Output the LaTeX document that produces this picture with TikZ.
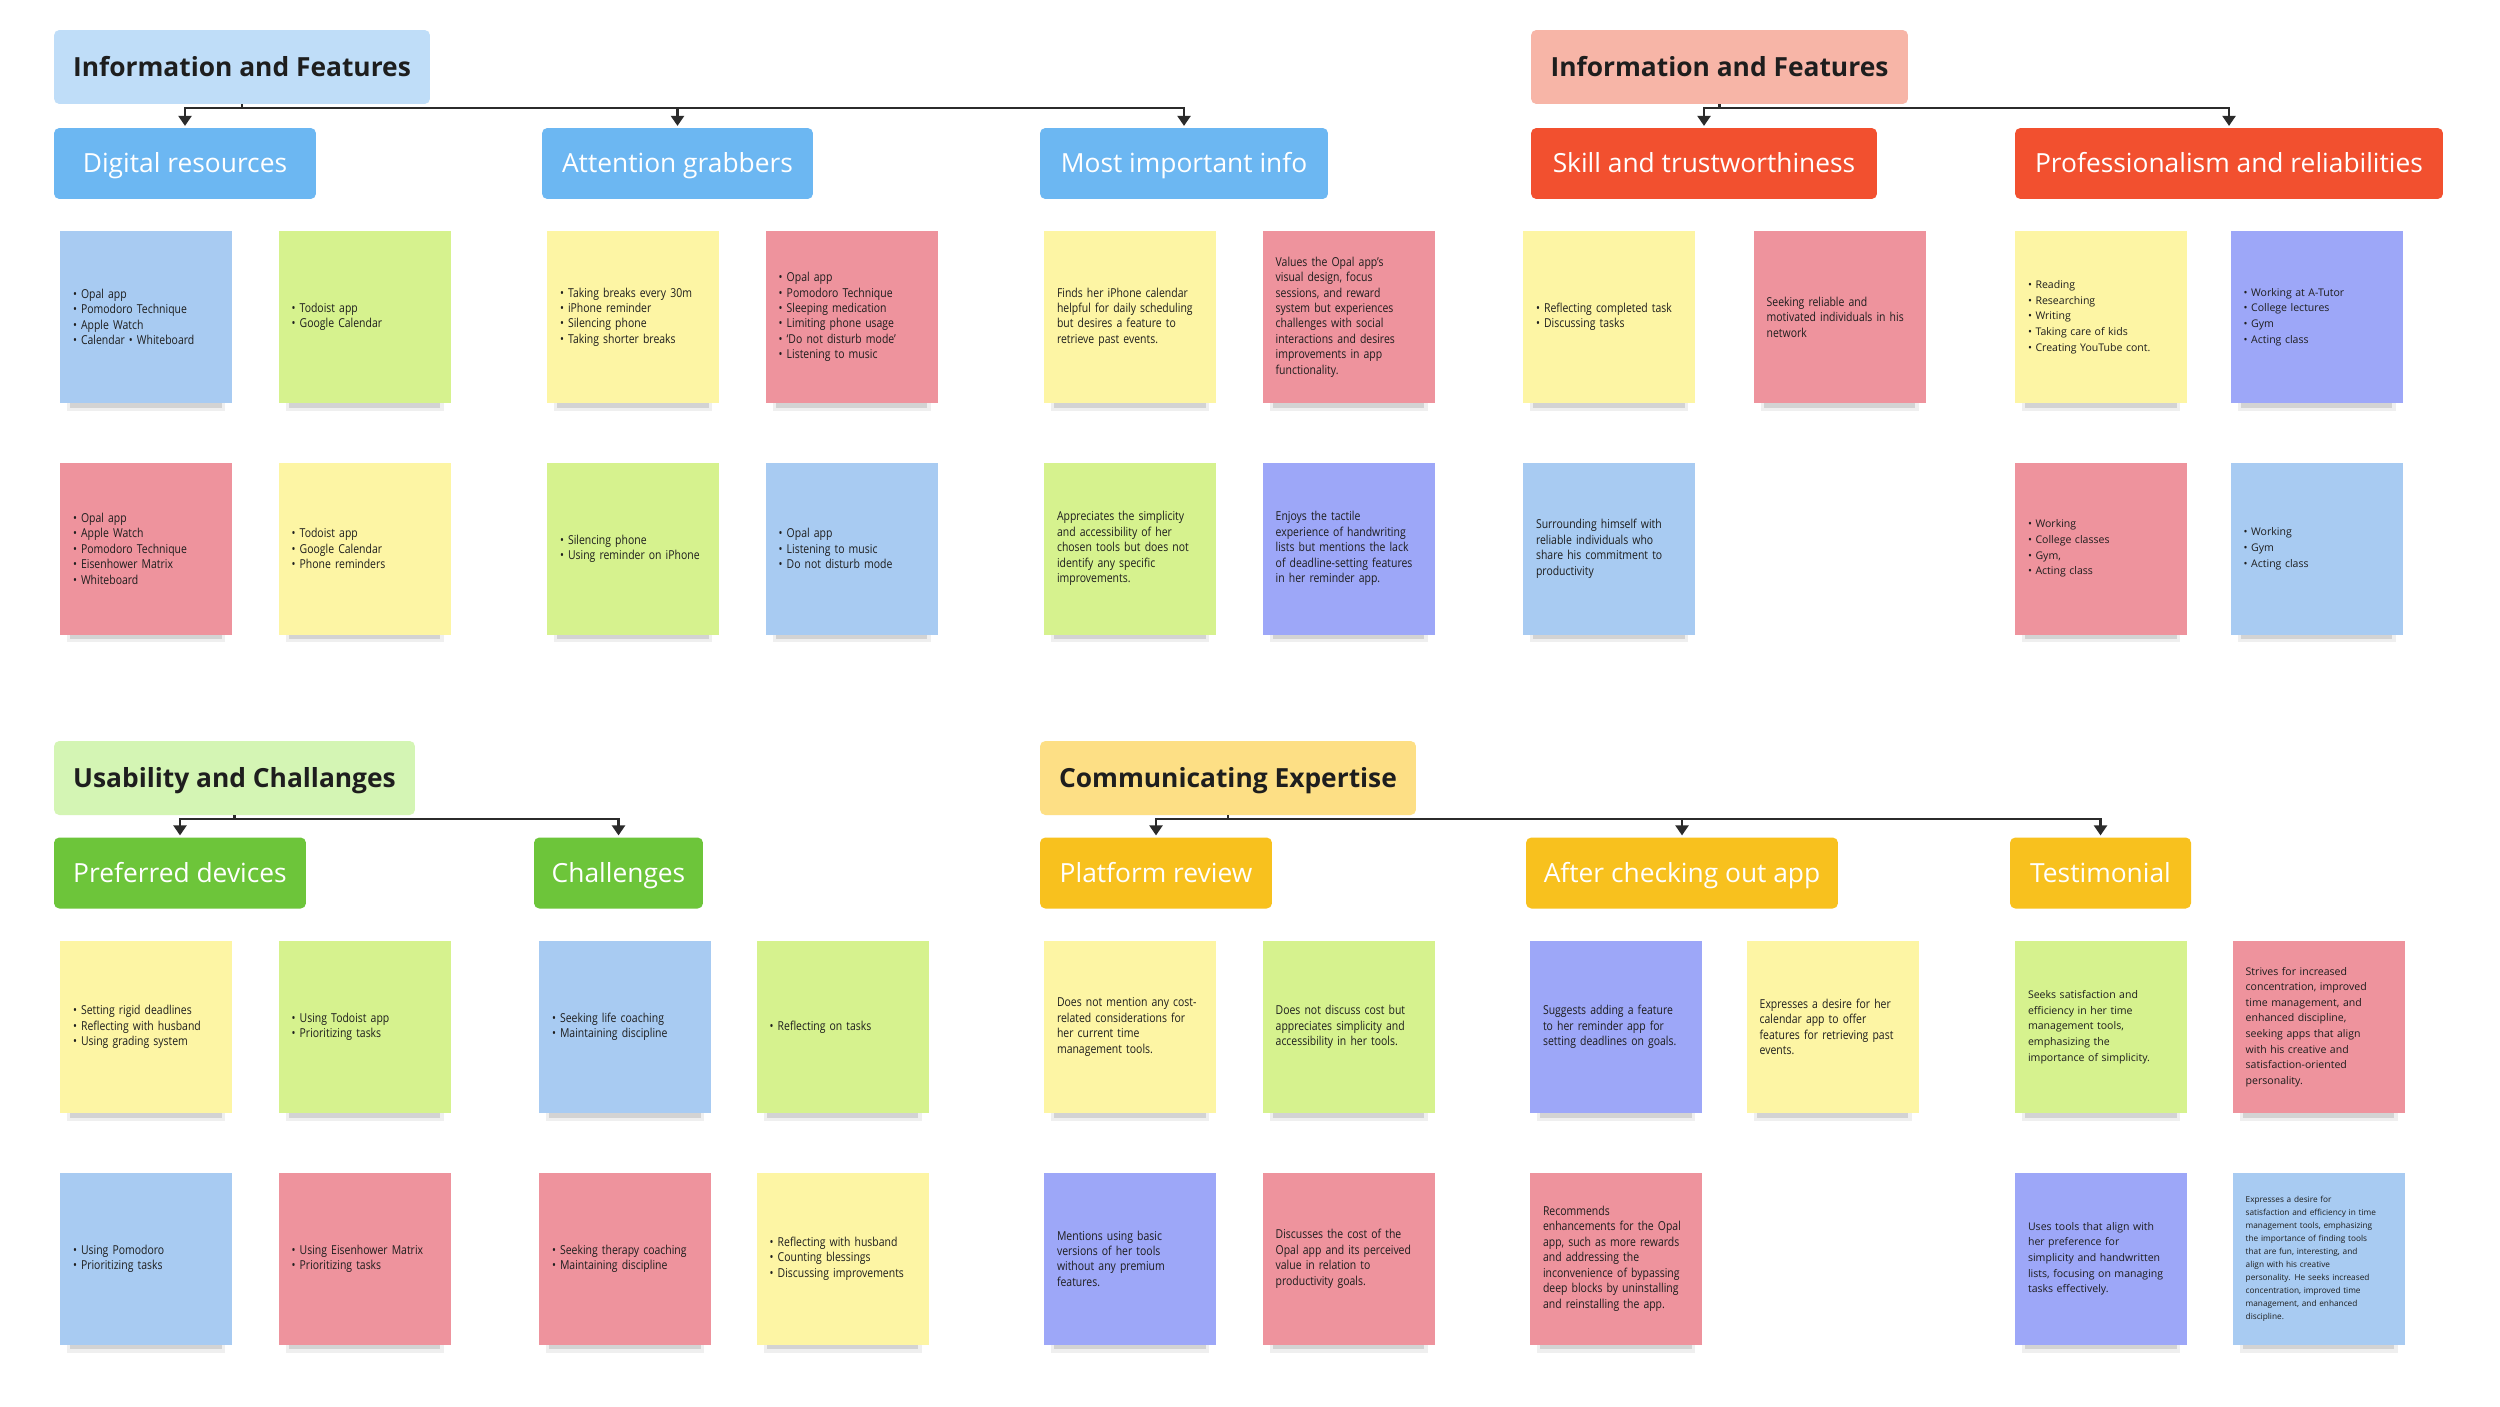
\documentclass[tikz,border=0pt]{standalone}
\usepackage{fontspec}
\setmainfont{Open Sans}
\newfontfamily\narrowsans[FakeStretch=0.85]{Open Sans}
\usepackage{tikz}
\usetikzlibrary{arrows.meta,calc,positioning,shadows}
\definecolor{inkDark}{HTML}{1E1E1E}
\definecolor{inkLine}{HTML}{2B2B2B}
\definecolor{headBlue}{HTML}{BFDDF8}
\definecolor{topicBlue}{HTML}{6CB7F2}
\definecolor{headSalmon}{HTML}{F7B5A7}
\definecolor{topicRed}{HTML}{F2502F}
\definecolor{headGreen}{HTML}{D4F5B4}
\definecolor{topicGreen}{HTML}{6DC53A}
\definecolor{headGold}{HTML}{FDDF85}
\definecolor{topicGold}{HTML}{F8C11E}
\definecolor{noteBlue}{HTML}{A8CBF2}
\definecolor{noteGreen}{HTML}{D6F28E}
\definecolor{noteYellow}{HTML}{FDF5A4}
\definecolor{notePink}{HTML}{EE939D}
\definecolor{noteViolet}{HTML}{9DA7F8}

\begin{document}
\begin{tikzpicture}[
  x=0.02cm, y=-0.02cm,
  title/.style={rounded corners=3pt, minimum height=1.48cm, inner sep=0pt, text height=10.8pt, text depth=0pt, font=\fontsize{15}{18}\selectfont\bfseries, text=inkDark},
  topic/.style={rounded corners=3pt, minimum height=1.42cm, inner sep=0pt, text height=10.7pt, text depth=0pt, font=\fontsize{15}{18}\selectfont, text=white},
  sticky/.style={minimum width=3.44cm, minimum height=3.44cm, text width=2.92cm, inner xsep=0.26cm, inner ysep=0pt, align=left, text=inkDark,
    font=\narrowsans\fontsize{7}{8.8}\selectfont,
    drop shadow={shadow xshift=0pt, shadow yshift=-0.32cm, shadow scale=0.92, opacity=0.12},
    drop shadow={shadow xshift=0pt, shadow yshift=-0.34cm, shadow scale=0.88, opacity=0.25}},
  widetext/.style={font=\fontsize{6}{8.9}\selectfont},
  smalltext/.style={font=\fontsize{4.7}{7.4}\selectfont},
  branch/.style={line width=1.3pt, draw=inkLine, -{Triangle[length=2mm, width=2.6mm]}, shorten >=1pt}
]
  \fill[white] (0,0) rectangle (2500,1406);
  \useasboundingbox (0,0) rectangle (2500,1406);

  % headings, top half
  \node[title, fill=headBlue, minimum width=7.52cm] (infoL) at (242,67) {Information and Features};
  \node[topic, fill=topicBlue, minimum width=5.24cm] (digital) at (185,163.5) {Digital resources};
  \node[topic, fill=topicBlue, minimum width=5.42cm] (attention) at (677.5,163.5) {Attention grabbers};
  \node[topic, fill=topicBlue, minimum width=5.76cm] (mostinfo) at (1184,163.5) {Most important info};

  \node[title, fill=headSalmon, minimum width=7.54cm] (infoR) at (1719.5,67) {Information and Features};
  \node[topic, fill=topicRed, minimum width=6.92cm] (skill) at (1704,163.5) {Skill and trustworthiness};
  \node[topic, fill=topicRed, minimum width=8.56cm] (profess) at (2229,163.5) {Professionalism and reliabilities};

  % headings, bottom half
  \node[title, fill=headGreen, minimum width=7.22cm] (usab) at (234.5,778) {Usability and Challanges};
  \node[topic, fill=topicGreen, minimum width=5.04cm] (devices) at (180,873) {Preferred devices};
  \node[topic, fill=topicGreen, minimum width=3.38cm] (challenges) at (618.5,873) {Challenges};

  \node[title, fill=headGold, minimum width=7.52cm] (expert) at (1228,778) {Communicating Expertise};
  \node[topic, fill=topicGold, minimum width=4.64cm] (platform) at (1156,873) {Platform review};
  \node[topic, fill=topicGold, minimum width=6.24cm] (aftercheck) at (1682,873) {After checking out app};
  \node[topic, fill=topicGold, minimum width=3.62cm] (testimonial) at (2100.5,873) {Testimonial};

  \draw[branch] (infoL.south) -- ++(0,4) -| (digital.north);
  \draw[branch] (infoL.south) -- ++(0,4) -| (attention.north);
  \draw[branch] (infoL.south) -- ++(0,4) -| (mostinfo.north);
  \draw[branch] (infoR.south) -- ++(0,4) -| (skill.north);
  \draw[branch] (infoR.south) -- ++(0,4) -| (profess.north);
  \draw[branch] (usab.south) -- ++(0,4) -| (devices.north);
  \draw[branch] (usab.south) -- ++(0,4) -| (challenges.north);
  \draw[branch] (expert.south) -- ++(0,4) -| (platform.north);
  \draw[branch] (expert.south) -- ++(0,4) -| (aftercheck.north);
  \draw[branch] (expert.south) -- ++(0,4) -| (testimonial.north);

  % digital resources
  \node[sticky, fill=noteBlue] (dr1) at (146,317) {• Opal app\\• Pomodoro Technique\\• Apple Watch\\• Calendar • Whiteboard};
  \node[sticky, fill=noteGreen, right=0.92cm of dr1] (dr2) {• Todoist app\\• Google Calendar};
  \node[sticky, fill=notePink, below=1.18cm of dr1] (dr3) {• Opal app\\• Apple Watch\\• Pomodoro Technique\\• Eisenhower Matrix\\• Whiteboard};
  \node[sticky, fill=noteYellow, right=0.92cm of dr3] (dr4) {• Todoist app\\• Google Calendar\\• Phone reminders};

  % attention grabbers
  \node[sticky, fill=noteYellow] (ag1) at (633,317) {• Taking breaks every 30m\\• iPhone reminder\\• Silencing phone\\• Taking shorter breaks};
  \node[sticky, fill=notePink, right=0.92cm of ag1] (ag2) {• Opal app\\• Pomodoro Technique\\• Sleeping medication\\• Limiting phone usage\\• ‘Do not disturb mode’\\• Listening to music};
  \node[sticky, fill=noteGreen, below=1.18cm of ag1] (ag3) {• Silencing phone\\• Using reminder on iPhone};
  \node[sticky, fill=noteBlue, right=0.92cm of ag3] (ag4) {• Opal app\\• Listening to music\\• Do not disturb mode};

  % most important info
  \node[sticky, fill=noteYellow] (mi1) at (1130,317) {Finds her iPhone calendar\\helpful for daily scheduling\\but desires a feature to\\retrieve past events.};
  \node[sticky, fill=notePink, right=0.92cm of mi1] (mi2) {Values the Opal app’s\\visual design, focus\\sessions, and reward\\system but experiences\\challenges with social\\interactions and desires\\improvements in app\\functionality.};
  \node[sticky, fill=noteGreen, below=1.18cm of mi1] (mi3) {Appreciates the simplicity\\and accessibility of her\\chosen tools but does not\\identify any specific\\improvements.};
  \node[sticky, fill=noteViolet, right=0.92cm of mi3] (mi4) {Enjoys the tactile\\experience of handwriting\\lists but mentions the lack\\of deadline-setting features\\in her reminder app.};

  % skill and trustworthiness
  \node[sticky, fill=noteYellow] (sk1) at (1609,317) {• Reflecting completed task\\• Discussing tasks};
  \node[sticky, fill=notePink, right=1.16cm of sk1] (sk2) {Seeking reliable and\\motivated individuals in his\\network};
  \node[sticky, fill=noteBlue, below=1.18cm of sk1] (sk3) {Surrounding himself with\\reliable individuals who\\share his commitment to\\productivity};

  % professionalism and reliabilities
  \node[sticky, widetext, fill=noteYellow] (pf1) at (2101,317) {• Reading\\• Researching\\• Writing\\• Taking care of kids\\• Creating YouTube cont.};
  \node[sticky, widetext, fill=noteViolet, right=0.86cm of pf1] (pf2) {• Working at A-Tutor\\• College lectures\\• Gym\\• Acting class};
  \node[sticky, widetext, fill=notePink, below=1.18cm of pf1] (pf3) {• Working\\• College classes\\• Gym,\\• Acting class};
  \node[sticky, widetext, fill=noteBlue, right=0.86cm of pf3] (pf4) {• Working\\• Gym\\• Acting class};

  % preferred devices
  \node[sticky, fill=noteYellow] (pd1) at (146,1027) {• Setting rigid deadlines\\• Reflecting with husband\\• Using grading system};
  \node[sticky, fill=noteGreen, right=0.92cm of pd1] (pd2) {• Using Todoist app\\• Prioritizing tasks};
  \node[sticky, fill=noteBlue, below=1.18cm of pd1] (pd3) {• Using Pomodoro\\• Prioritizing tasks};
  \node[sticky, fill=notePink, right=0.92cm of pd3] (pd4) {• Using Eisenhower Matrix\\• Prioritizing tasks};

  % challenges
  \node[sticky, fill=noteBlue] (cg1) at (625,1027) {• Seeking life coaching\\• Maintaining discipline};
  \node[sticky, fill=noteGreen, right=0.9cm of cg1] (cg2) {• Reflecting on tasks};
  \node[sticky, fill=notePink, below=1.18cm of cg1] (cg3) {• Seeking therapy coaching\\• Maintaining discipline};
  \node[sticky, fill=noteYellow, right=0.9cm of cg3] (cg4) {• Reflecting with husband\\• Counting blessings\\• Discussing improvements};

  % platform review
  \node[sticky, fill=noteYellow] (pr1) at (1130,1027) {Does not mention any cost-\\related considerations for\\her current time\\management tools.};
  \node[sticky, fill=noteGreen, right=0.92cm of pr1] (pr2) {Does not discuss cost but\\appreciates simplicity and\\accessibility in her tools.};
  \node[sticky, fill=noteViolet, below=1.18cm of pr1] (pr3) {Mentions using basic\\versions of her tools\\without any premium\\features.};
  \node[sticky, fill=notePink, right=0.92cm of pr3] (pr4) {Discusses the cost of the\\Opal app and its perceived\\value in relation to\\productivity goals.};

  % after checking out app
  \node[sticky, fill=noteViolet] (ac1) at (1616,1027) {Suggests adding a feature\\to her reminder app for\\setting deadlines on goals.};
  \node[sticky, fill=noteYellow, right=0.88cm of ac1] (ac2) {Expresses a desire for her\\calendar app to offer\\features for retrieving past\\events.};
  \node[sticky, fill=notePink, below=1.18cm of ac1] (ac3) {Recommends\\enhancements for the Opal\\app, such as more rewards\\and addressing the\\inconvenience of bypassing\\deep blocks by uninstalling\\and reinstalling the app.};

  % testimonial
  \node[sticky, widetext, fill=noteGreen] (ts1) at (2101,1027) {Seeks satisfaction and\\efficiency in her time\\management tools,\\emphasizing the\\importance of simplicity.};
  \node[sticky, widetext, fill=notePink, right=0.9cm of ts1] (ts2) {Strives for increased\\concentration, improved\\time management, and\\enhanced discipline,\\seeking apps that align\\with his creative and\\satisfaction-oriented\\personality.};
  \node[sticky, widetext, fill=noteViolet, below=1.18cm of ts1] (ts3) {Uses tools that align with\\her preference for\\simplicity and handwritten\\lists, focusing on managing\\tasks effectively.};
  \node[sticky, smalltext, fill=noteBlue, right=0.9cm of ts3] (ts4) {Expresses a desire for\\satisfaction and efficiency in time\\management tools, emphasizing\\the importance of finding tools\\that are fun, interesting, and\\align with his creative\\personality. He seeks increased\\concentration, improved time\\management, and enhanced\\discipline.};
\end{tikzpicture}
\end{document}
